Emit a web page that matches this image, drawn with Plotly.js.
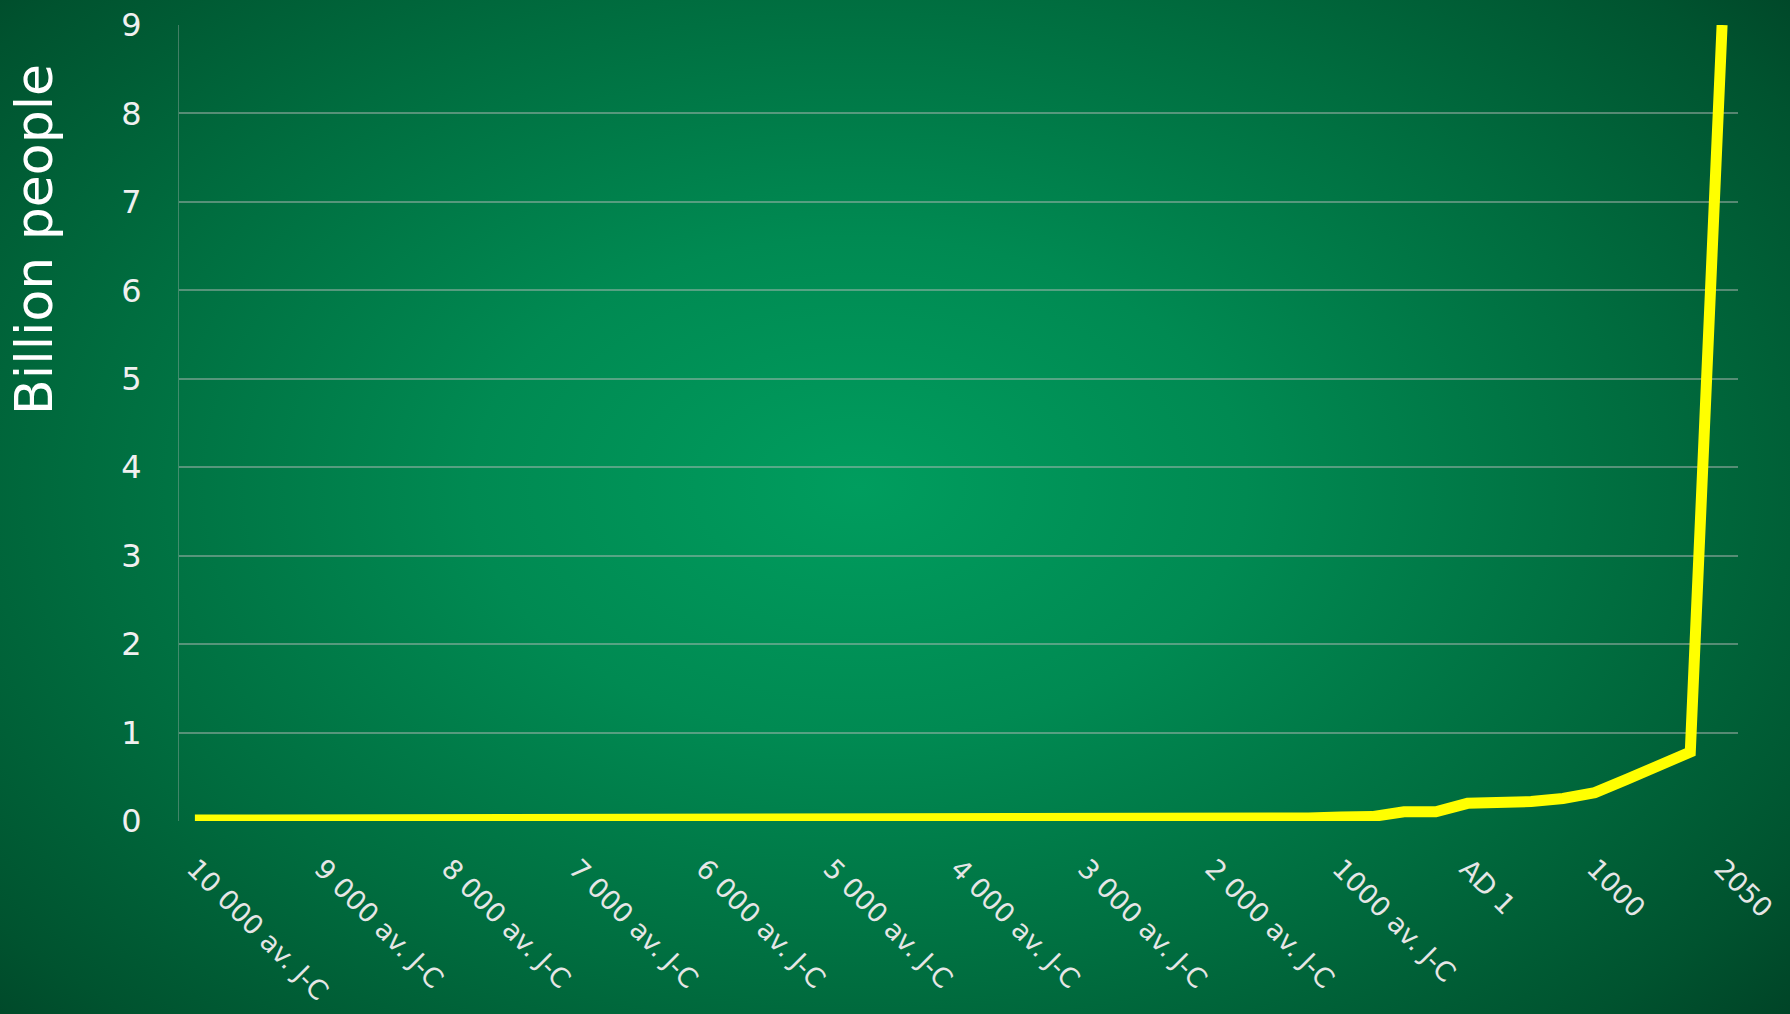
<!DOCTYPE html>
<html>
<head>
<meta charset="utf-8">
<script src="https://cdn.plot.ly/plotly-3.0.1.min.js"></script>
<style>
  html, body { margin: 0; padding: 0; width: 1790px; height: 1014px; overflow: hidden; }
  body {
    background: radial-gradient(ellipse 72% 82% at 48% 48%, #009d5e 0%, #008a52 30%, #006d3f 60%, #00532f 85%, #003f24 100%);
  }
  #chart { width: 1790px; height: 1014px; }
</style>
</head>
<body>
<div id="chart"></div>
<script>
// Categories: years (negative = av. J-C)
const years = [
  -10000, -9750, -9500, -9250, -9000, -8750, -8500, -8250,
  -8000, -7750, -7500, -7250, -7000, -6750, -6500, -6250,
  -6000, -5750, -5500, -5250, -5000, -4750, -4500, -4250,
  -4000, -3750, -3500, -3250, -3000, -2750, -2500, -2250,
  -2000, -1750, -1500, -1250, -1000, -750, -500, -250,
  1, 250, 500, 750, 1000, 1250, 1500, 1750, 2050
];
// World population, billion people
const population = [
  0.010, 0.010, 0.010, 0.010, 0.010, 0.010, 0.010, 0.010,
  0.010, 0.010, 0.010, 0.010, 0.010, 0.010, 0.010, 0.010,
  0.020, 0.020, 0.020, 0.020, 0.020, 0.020, 0.020, 0.020,
  0.020, 0.020, 0.020, 0.025, 0.025, 0.030, 0.030, 0.030,
  0.030, 0.030, 0.030, 0.035, 0.045, 0.050, 0.105, 0.105,
  0.200, 0.205, 0.220, 0.255, 0.320, 0.470, 0.625, 0.780, 9.0
];
const tickYears = [-10000, -9000, -8000, -7000, -6000, -5000, -4000, -3000, -2000, -1000, 1, 1000, 2050];
const tickLabels = [
  "10 000 av. J-C", "9 000 av. J-C", "8 000 av. J-C", "7 000 av. J-C",
  "6 000 av. J-C", "5 000 av. J-C", "4 000 av. J-C", "3 000 av. J-C",
  "2 000 av. J-C", "1000 av. J-C", "AD 1", "1000", "2050"
];
const yTitle = "Billion people";

const trace = {
  x: years.map(String),
  y: population,
  type: "scatter",
  mode: "lines",
  line: { color: "#ffff00", width: 11 },
  hoverinfo: "x+y"
};

const layout = {
  width: 1790, height: 1014,
  margin: { l: 179, r: 52, t: 25, b: 193 },
  paper_bgcolor: "rgba(0,0,0,0)",
  plot_bgcolor: "rgba(0,0,0,0)",
  showlegend: false,
  font: { family: "DejaVu Sans, Verdana, sans-serif", color: "#ececec" },
  xaxis: {
    type: "category",
    range: [-0.5, 48.5],
    tickmode: "array",
    tickvals: tickYears.map(String),
    ticktext: tickLabels,
    tickangle: 45,
    tickfont: { size: 27, color: "#e6e6e6", family: "DejaVu Sans, Verdana, sans-serif" },
    ticks: "outside", ticklen: 20, tickcolor: "rgba(0,0,0,0)",
    showgrid: false, zeroline: false, showline: false
  },
  yaxis: {
    range: [0, 9],
    tickmode: "array",
    tickvals: [0, 1, 2, 3, 4, 5, 6, 7, 8, 9],
    tickfont: { size: 32, color: "#f0f0f0", family: "DejaVu Sans, Verdana, sans-serif" },
    ticks: "outside", ticklen: 30, tickcolor: "rgba(0,0,0,0)",
    showgrid: true, gridcolor: "rgba(190,190,190,0.45)", gridwidth: 2,
    zeroline: false,
    showline: true, linecolor: "rgba(190,190,190,0.35)", linewidth: 1
  },
  annotations: [{
    text: yTitle,
    xref: "paper", yref: "paper",
    x: -0.093, y: 0.73,
    xanchor: "center", yanchor: "middle",
    textangle: -90,
    showarrow: false,
    font: { size: 52, color: "#ffffff", family: "DejaVu Sans, Verdana, sans-serif" }
  }]
};

Plotly.newPlot("chart", [trace], layout, { displayModeBar: false, staticPlot: true });
</script>
</body>
</html>
